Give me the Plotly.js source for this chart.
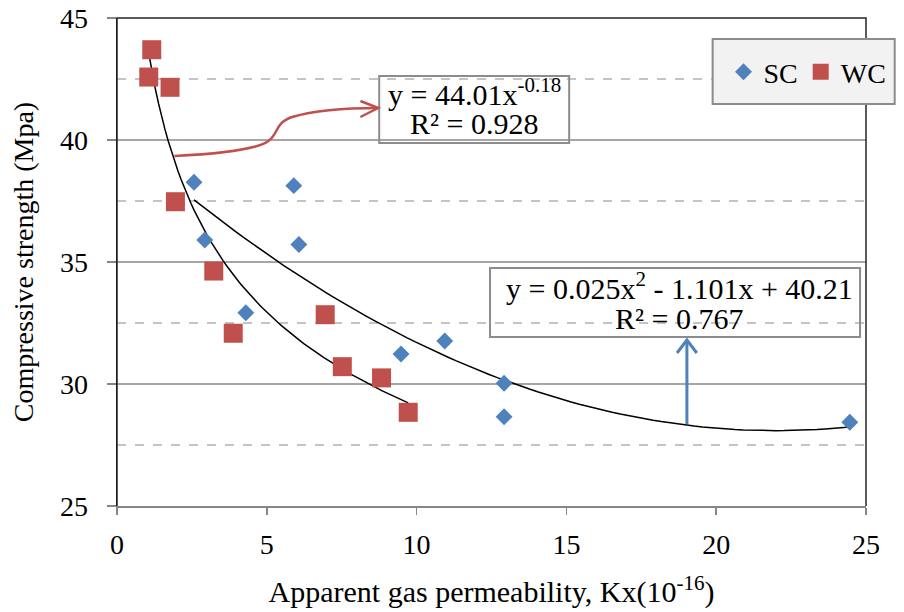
<!DOCTYPE html>
<html><head><meta charset="utf-8">
<script src="https://cdn.plot.ly/plotly-3.0.1.min.js"></script>
<style>html,body{margin:0;padding:0;background:#fff}</style>
</head><body><div id="chart" style="width:904px;height:612px"></div>
<script>
// ---- data ----
const scX = [2.57, 5.90, 2.93, 6.07, 4.30, 9.48, 10.94, 12.92, 12.92, 24.46];
const scY = [38.27, 38.13, 35.90, 35.72, 32.92, 31.23, 31.76, 30.03, 28.66, 28.43];
const wcX = [1.16, 1.06, 1.77, 1.95, 3.23, 3.88, 6.95, 7.52, 8.83, 9.72];
const wcY = [43.70, 42.58, 42.16, 37.47, 34.63, 32.08, 32.84, 30.71, 30.25, 28.84];
const xTickVals = [0, 5, 10, 15, 20, 25];
const yTickVals = [25, 30, 35, 40, 45];
const seriesNames = ["SC", "WC"];
// trendline coefficients as printed on the chart
const wcPowA = 44.01, wcPowB = -0.18, wcR2 = "0.928";
const scQuadA = 0.025, scQuadB = -1.101, scQuadC = 40.21, scR2 = "0.767";

const FONT = "Liberation Serif";
const W = 904, H = 612;
const M = {l: 117, r: 30, t: 18, b: 106};
const PW = W - M.l - M.r, PH = H - M.t - M.b;
const XR = [0, 25], YR = [25, 45];
const dx = px => XR[0] + (px - M.l) / PW * (XR[1] - XR[0]);
const dy = py => YR[1] - (py - M.t) / PH * (YR[1] - YR[0]);
const ppx = px => (px - M.l) / PW;
const ppy = py => 1 - (py - M.t) / PH;

function curve(xs, f) {
  const lo = Math.min(...xs), hi = Math.max(...xs), n = 80;
  const X = [], Y = [];
  for (let i = 0; i <= n; i++) { const x = lo + (hi - lo) * i / n; X.push(x); Y.push(f(x)); }
  return {X, Y};
}
const wcFit = curve(wcX, x => wcPowA * Math.pow(x, wcPowB));
const scFit = curve(scX, x => scQuadA * x * x + scQuadB * x + scQuadC);

const traces = [
  {x: scFit.X, y: scFit.Y, mode: "lines", line: {color: "#000", width: 1.5}, showlegend: false, hoverinfo: "skip"},
  {x: wcFit.X, y: wcFit.Y, mode: "lines", line: {color: "#000", width: 1.5}, showlegend: false, hoverinfo: "skip"},
  {x: scX, y: scY, name: seriesNames[0], mode: "markers", legend: "legend",
   marker: {symbol: "diamond", size: 13, color: "#4f81bd"}},
  {x: wcX, y: wcY, name: seriesNames[1], mode: "markers", legend: "legend2",
   marker: {symbol: "square", size: 19, color: "#c0504d"}}
];

const redPath = "M" + dx(175) + "," + dy(156) +
  " C" + dx(215) + "," + dy(154) + " " + dx(258) + "," + dy(150) + " " + dx(270) + "," + dy(141) +
  " C" + dx(281) + "," + dy(133) + " " + dx(276) + "," + dy(123) + " " + dx(294) + "," + dy(117) +
  " C" + dx(318) + "," + dy(110) + " " + dx(350) + "," + dy(108) + " " + dx(381) + "," + dy(108);
const redHead = "M" + dx(363) + "," + dy(101) + " L" + dx(381) + "," + dy(108) + " L" + dx(363) + "," + dy(117);
const blueLine = "M" + dx(693) + "," + dy(424) + " L" + dx(693) + "," + dy(340);
const blueHead = "M" + dx(683) + "," + dy(353) + " L" + dx(693) + "," + dy(340) + " L" + dx(703) + "," + dy(353);

const shapes = [
  {type: "path", xref: "paper", yref: "paper", path: "M0,0 L0,1 L1,1 L1,0", line: {color: "#262626", width: 1.5}, layer: "above"},
  {type: "rect", xref: "paper", yref: "paper", x0: ppx(719), x1: ppx(903), y0: ppy(104), y1: ppy(39),
   fillcolor: "#f2f2f2", line: {color: "#8c8c8c", width: 2}, layer: "above"},
  {type: "rect", xref: "paper", yref: "paper", x0: ppx(382), x1: ppx(574), y0: ppy(143), y1: ppy(76),
   line: {color: "#8c8c8c", width: 2}, layer: "above"},
  {type: "rect", xref: "paper", yref: "paper", x0: ppx(494), x1: ppx(868), y0: ppy(337), y1: ppy(268),
   line: {color: "#8c8c8c", width: 2}, layer: "above"},
  {type: "path", xref: "x", yref: "y", path: redPath, line: {color: "#c0504d", width: 2.5}, layer: "above"},
  {type: "path", xref: "x", yref: "y", path: redHead, line: {color: "#c0504d", width: 2.5}, layer: "above"},
  {type: "path", xref: "x", yref: "y", path: blueLine, line: {color: "#4f81bd", width: 3}, layer: "above"},
  {type: "path", xref: "x", yref: "y", path: blueHead, line: {color: "#4f81bd", width: 3}, layer: "above"}
];

const af = {family: FONT, size: 30, color: "#000"};
const annotations = [
  {xref: "paper", yref: "paper", x: ppx(478), y: ppy(92), xanchor: "center", yanchor: "middle", showarrow: false,
   text: "y = " + wcPowA.toFixed(2) + "x<sup>" + wcPowB + "</sup>", font: af},
  {xref: "paper", yref: "paper", x: ppx(477.5), y: ppy(124), xanchor: "center", yanchor: "middle", showarrow: false,
   text: "R² = " + wcR2, font: af},
  {xref: "paper", yref: "paper", x: ppx(685.5), y: ppy(286), xanchor: "center", yanchor: "middle", showarrow: false,
   text: "y = " + scQuadA + "x<sup>2</sup> - " + Math.abs(scQuadB) + "x + " + scQuadC, font: af},
  {xref: "paper", yref: "paper", x: ppx(685), y: ppy(318), xanchor: "center", yanchor: "middle", showarrow: false,
   text: "R² = " + scR2, font: af}
];

const tf = {family: FONT, size: 28, color: "#000"};
const layout = {
  width: W, height: H, margin: M,
  paper_bgcolor: "#fff", plot_bgcolor: "#fff",
  font: {family: FONT, size: 28, color: "#000"},
  xaxis: {range: XR, tickmode: "array", tickvals: xTickVals, ticks: "outside", ticklen: 7, tickwidth: 1.5,
    tickcolor: "#868686", showline: true, linecolor: "#868686", linewidth: 1.5, showgrid: false, zeroline: false,
    tickfont: tf, ticklabelstandoff: 6,
    title: {text: "Apparent gas permeability, Kx(10<sup>-16</sup>)", font: {family: FONT, size: 30, color: "#000"}, standoff: 22}},
  yaxis: {range: YR, tickmode: "array", tickvals: yTickVals, ticks: "outside", ticklen: 9, tickwidth: 1.5,
    tickcolor: "#868686", showline: true, linecolor: "#000", linewidth: 1.5,
    showgrid: true, gridcolor: "#a6a6a6", gridwidth: 1.5, zeroline: false,
    minor: {dtick: 2.5, tick0: 25, showgrid: true, gridcolor: "#c4c4c4", griddash: "dash", gridwidth: 1.3, ticks: ""},
    tickfont: tf, ticklabelstandoff: 13,
    title: {text: "Compressive strength (Mpa)", font: tf, standoff: 18}},
  legend: {x: ppx(730), y: ppy(72), xanchor: "left", yanchor: "middle", orientation: "h",
    bgcolor: "rgba(0,0,0,0)", borderwidth: 0, font: tf},
  legend2: {x: ppx(808), y: ppy(72), xanchor: "left", yanchor: "middle", orientation: "h",
    bgcolor: "rgba(0,0,0,0)", borderwidth: 0, font: tf},
  shapes, annotations,
  showlegend: true
};
Plotly.newPlot("chart", traces, layout, {displayModeBar: false, staticPlot: true});
</script>
</body></html>
